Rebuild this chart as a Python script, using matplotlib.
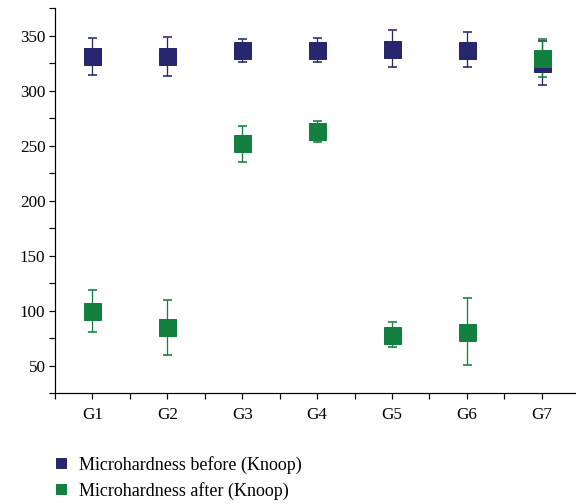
import numpy as np
import matplotlib
matplotlib.use("Agg")
from matplotlib import pyplot as plt
from matplotlib.lines import Line2D

plt.rcParams["font.family"] = ["Liberation Serif", "DejaVu Serif"]

groups = ["G1", "G2", "G3", "G4", "G5", "G6", "G7"]

before_mean = [331, 331, 337, 337, 338, 337, 325]
before_low = [314, 313, 326, 326, 321, 321, 305]
before_high = [348, 348.5, 347, 348, 355, 353, 345]

after_mean = [100, 85, 252, 263, 78, 81, 330]
after_low = [81, 60, 235, 253, 66.5, 50.5, 312.5]
after_high = [119, 110, 268, 272.5, 89.5, 111.5, 347]

navy = "#272770"
green = "#13803f"

x = np.arange(1, len(groups) + 1)

fig = plt.figure(figsize=(8, 7), dpi=72)
ax = fig.add_axes([0.0955, 0.22, 0.91, 0.764])


def draw(mean, low, high, color):
    mean = np.array(mean)
    yerr = [mean - np.array(low), np.array(high) - mean]
    ax.errorbar(x, mean, yerr=yerr, fmt="s", color=color, ecolor=color,
                mec=color, markersize=17, elinewidth=1.3, capsize=4.5,
                capthick=1.6)


draw(before_mean, before_low, before_high, navy)
draw(after_mean, after_low, after_high, green)

ax.set_xlim(0.5, 7.5)
ax.set_ylim(25, 375)
ax.set_xticks(x)
ax.set_xticklabels(groups)
ax.set_xticks(np.arange(0.5, 7.6, 1), minor=True)
ax.set_yticks([50, 100, 150, 200, 250, 300, 350])
ax.set_yticks(np.arange(25, 376, 50), minor=True)
ax.tick_params(axis="both", which="both", direction="out", length=6, width=1.2,
               labelsize=17, colors="black")
ax.tick_params(axis="x", pad=8)
ax.spines["top"].set_visible(False)
ax.spines["right"].set_visible(False)
ax.spines["left"].set_linewidth(1.2)
ax.spines["bottom"].set_linewidth(1.2)

handles = [
    Line2D([], [], marker="s", linestyle="none", color=navy, markersize=10),
    Line2D([], [], marker="s", linestyle="none", color=green, markersize=10),
]
fig.legend(handles, ["Microhardness before (Knoop)", "Microhardness after (Knoop)"],
           loc="upper left", bbox_to_anchor=(0.075, 0.11), frameon=False,
           fontsize=18, handletextpad=0.4, labelspacing=0.45, borderaxespad=0,
           handlelength=1.2)

plt.savefig("out.png", dpi=72)
